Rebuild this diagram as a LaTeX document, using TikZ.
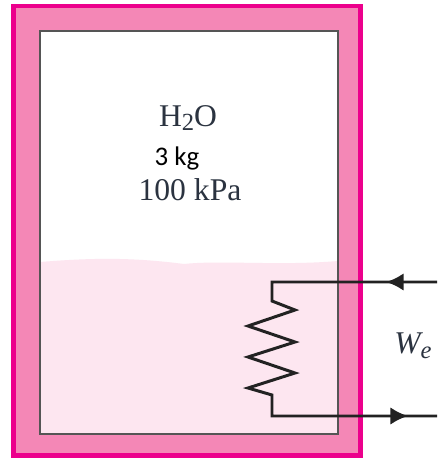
\documentclass[tikz,border=0pt]{standalone}
\usepackage{amsmath, fontspec}
\usetikzlibrary{arrows.meta}
\setmainfont{Liberation Serif}
\newfontfamily\kgfont{Carlito}
\definecolor{wallpink}{HTML}{F487B6}
\definecolor{wallrim}{HTML}{EC008C}
\definecolor{waterpink}{HTML}{FDE6F0}
\definecolor{tankgray}{HTML}{555555}
\definecolor{wiregray}{HTML}{222222}
\definecolor{labelgray}{HTML}{2B3340}
\newcommand{\lowsub}[1]{\raisebox{-2.6pt}{\fontsize{14}{14}\selectfont #1}}
\tikzset{
  wire/.style={draw=wiregray, line width=1.7pt, line join=miter},
  flow/.style={wire, -{Latex[length=10pt, width=10pt]}},
  label/.style={text=labelgray, inner sep=0pt, font=\fontsize{18}{20}\selectfont},
}
\begin{document}
\begin{tikzpicture}[x=0.02cm, y=-0.02cm]
          \useasboundingbox (0, 0) rectangle (437, 459);

          \draw[wallrim, fill=wallpink, line width=2.8pt] (13.5, 6) rectangle (360.5, 455.5);
          \fill[white] (40, 31) rectangle (338, 434);
          \fill[waterpink] (40, 262) .. controls (90, 258) and (130, 257) .. (184, 264)
            .. controls (220, 260) and (280, 266) .. (338, 261) -- (338, 434) -- (40, 434) -- cycle;
          \draw[tankgray, line width=1.2pt] (40, 31) rectangle (338, 434);

          \node[label] (water) at (188, 118) {H\lowsub{2}O};
          \node[inner sep=0pt, font=\fontsize{15.3}{18}\kgfont] (mass) at (177, 158) {3 kg};
          \node[label] (pressure) at (190, 190) {100 kPa};
          \node[label, anchor=west] (work) at (394, 346) {\textit{W\lowsub{e}}};

          \coordinate (inend) at (437, 282);
          \coordinate (inmark) at (386, 282);
          \coordinate (topcorner) at (272, 282);
          \coordinate (coiltop) at (272, 301);
          \coordinate (coilbot) at (272, 395);
          \coordinate (botcorner) at (272, 416);
          \coordinate (outmark) at (408, 416);
          \coordinate (outend) at (437, 416);

          \draw[wire] (inend) -- (topcorner) -- (coiltop) -- (295, 310) -- (248, 326) -- (295, 342)
            -- (248, 357) -- (295, 373) -- (248, 388) -- (coilbot) -- (botcorner) -- (outend);
          \draw[flow] (inend) -- (inmark);
          \draw[flow] (botcorner) -- (outmark);
        \end{tikzpicture}
\end{document}
